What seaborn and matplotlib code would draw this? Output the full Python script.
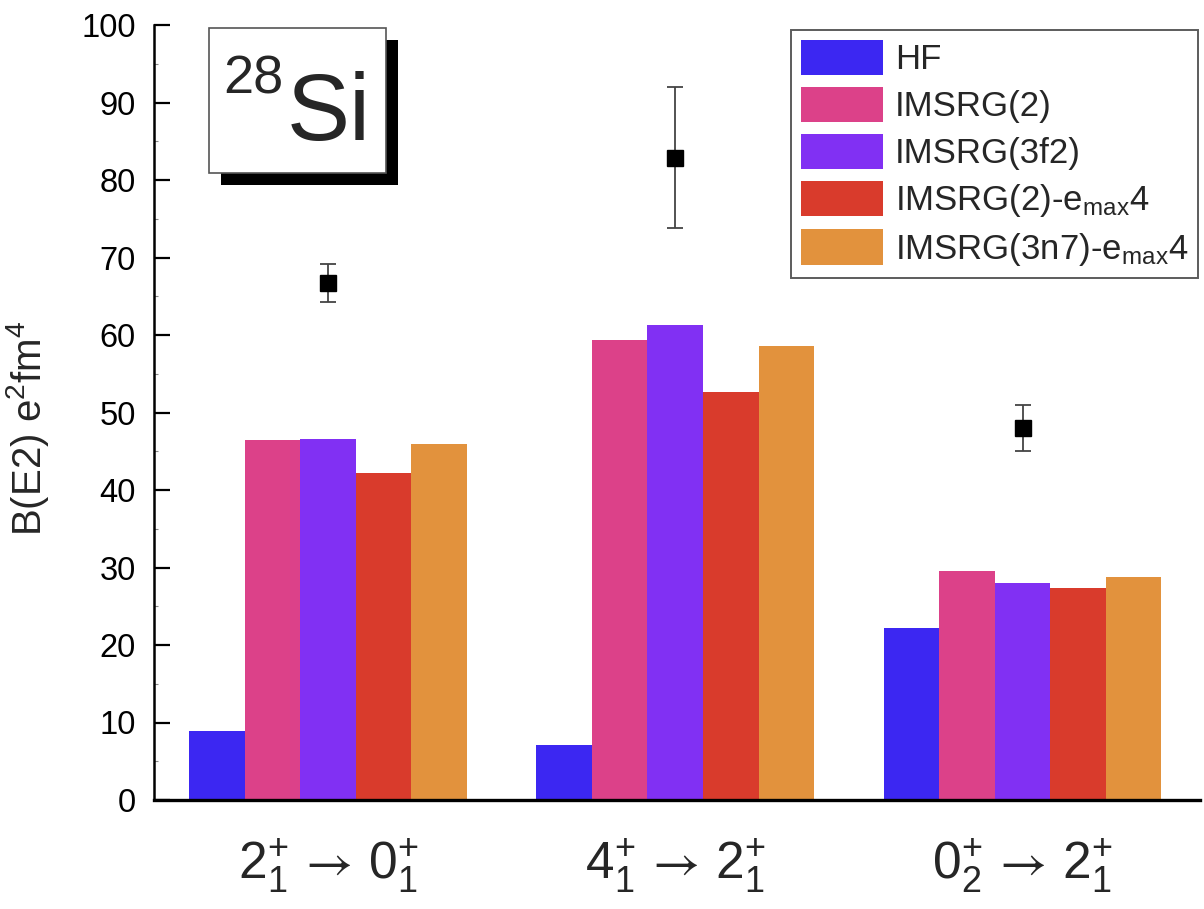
import matplotlib
matplotlib.use("Agg")
import matplotlib.pyplot as plt
from matplotlib.patches import Rectangle, Patch
from matplotlib.ticker import MultipleLocator
import seaborn as sns
import pandas as pd

# --- data -------------------------------------------------------------
transitions = [r"$2^{+}_{1}\,\mathcal{\rightarrow}\,0^{+}_{1}$",
               r"$4^{+}_{1}\,\mathcal{\rightarrow}\,2^{+}_{1}$",
               r"$0^{+}_{2}\,\mathcal{\rightarrow}\,2^{+}_{1}$"]
methods = ["HF", "IMSRG(2)", "IMSRG(3f2)",
           r"IMSRG(2)-e$_{\mathrm{max}}$4", r"IMSRG(3n7)-e$_{\mathrm{max}}$4"]
hf = [8.9, 7.1, 22.2]
imsrg2 = [46.5, 59.3, 29.6]
imsrg3f2 = [46.6, 61.3, 28.0]
imsrg2_emax4 = [42.2, 52.6, 27.4]
imsrg3n7_emax4 = [46.0, 58.6, 28.8]
exp_values = [66.7, 82.9, 48.0]
exp_errors = [2.5, 9.1, 3.0]
colors = ["#3C27F2", "#DC4189", "#8130F3", "#D93B2C", "#E2923D"]

series = [hf, imsrg2, imsrg3f2, imsrg2_emax4, imsrg3n7_emax4]
rows = []
for m, vals in zip(methods, series):
    for t, v in zip(transitions, vals):
        rows.append({"transition": t, "method": m, "value": v})
df = pd.DataFrame(rows)

# --- style --------------------------------------------------------------
sns.set_style("ticks")
plt.rcParams["font.family"] = ["Liberation Sans", "DejaVu Sans"]
plt.rcParams["mathtext.fontset"] = "custom"
plt.rcParams["mathtext.rm"] = "Liberation Sans"
plt.rcParams["mathtext.it"] = "Liberation Sans:italic"
plt.rcParams["mathtext.bf"] = "Liberation Sans:bold"
plt.rcParams["mathtext.sf"] = "Liberation Sans"
plt.rcParams["mathtext.cal"] = "STIXGeneral"
plt.rcParams["mathtext.fallback"] = "stixsans"

W, H = 1204, 909
fig = plt.figure(figsize=(W / 100, H / 100), dpi=100)
ax = fig.add_axes([154 / W, 1 - 800 / H, (1200 - 154) / W, (800 - 25) / H])

sns.barplot(data=df, x="transition", y="value", hue="method",
            order=transitions, hue_order=methods, palette=colors,
            saturation=1, width=0.8, edgecolor="none", linewidth=0,
            legend=False, ax=ax)

# experimental values
ax.errorbar(range(len(transitions)), exp_values, yerr=exp_errors,
            fmt="s", color="black", markersize=11, ecolor="#444444",
            elinewidth=1.3, capsize=6, capthick=1.3, zorder=5)

ax.set_xlim(-0.501, 2.511)
ax.set_ylim(0, 100)
ax.yaxis.set_major_locator(MultipleLocator(10))
ax.yaxis.set_minor_locator(MultipleLocator(5))

for side in ("top", "right"):
    ax.spines[side].set_visible(False)
ax.spines["left"].set_linewidth(1.8)
ax.spines["bottom"].set_linewidth(2.4)
ax.spines["left"].set_color("black")
ax.spines["bottom"].set_color("black")

ax.tick_params(axis="y", which="major", direction="in", length=11.5,
               width=1.6, labelsize=23.5, pad=13, colors="black")
ax.tick_params(axis="y", which="minor", direction="in", length=3,
               width=0.8, color="#888888")
ax.tick_params(axis="x", which="major", length=0, labelsize=37, pad=26)

ax.set_xlabel("")
ax.set_ylabel(r"B(E2) e$^{2}$fm$^{4}$", fontsize=29)
ax.yaxis.set_label_coords(-0.098, 0.48)

# legend
handles = [Patch(facecolor=c, edgecolor="none") for c in colors]
leg = ax.legend(handles, methods, loc="upper right",
                bbox_to_anchor=(1198 / W, 1 - 30 / H),
                bbox_transform=fig.transFigure, fontsize=25,
                frameon=True, fancybox=False, edgecolor="#333333",
                handlelength=2.35, handleheight=1.2, handletextpad=0.35,
                labelspacing=0.3, borderpad=0.28, borderaxespad=0)
leg.get_frame().set_linewidth(1.4)

# nucleus label box with drop shadow
fig.patches.append(Rectangle((221 / W, 1 - 185 / H), 177 / W, 145 / H,
                             transform=fig.transFigure, facecolor="black",
                             edgecolor="none", zorder=10))
fig.patches.append(Rectangle((209 / W, 1 - 173 / H), 177 / W, 145 / H,
                             transform=fig.transFigure, facecolor="white",
                             edgecolor="#555555", linewidth=1.2, zorder=11))
fig.text(223 / W, 1 - 93 / H, "28", fontsize=39, ha="left",
         va="baseline", zorder=12)
fig.text(287 / W, 1 - 140 / H, "Si", fontsize=68, ha="left",
         va="baseline", zorder=12)

fig.savefig("out.png", dpi=100)
